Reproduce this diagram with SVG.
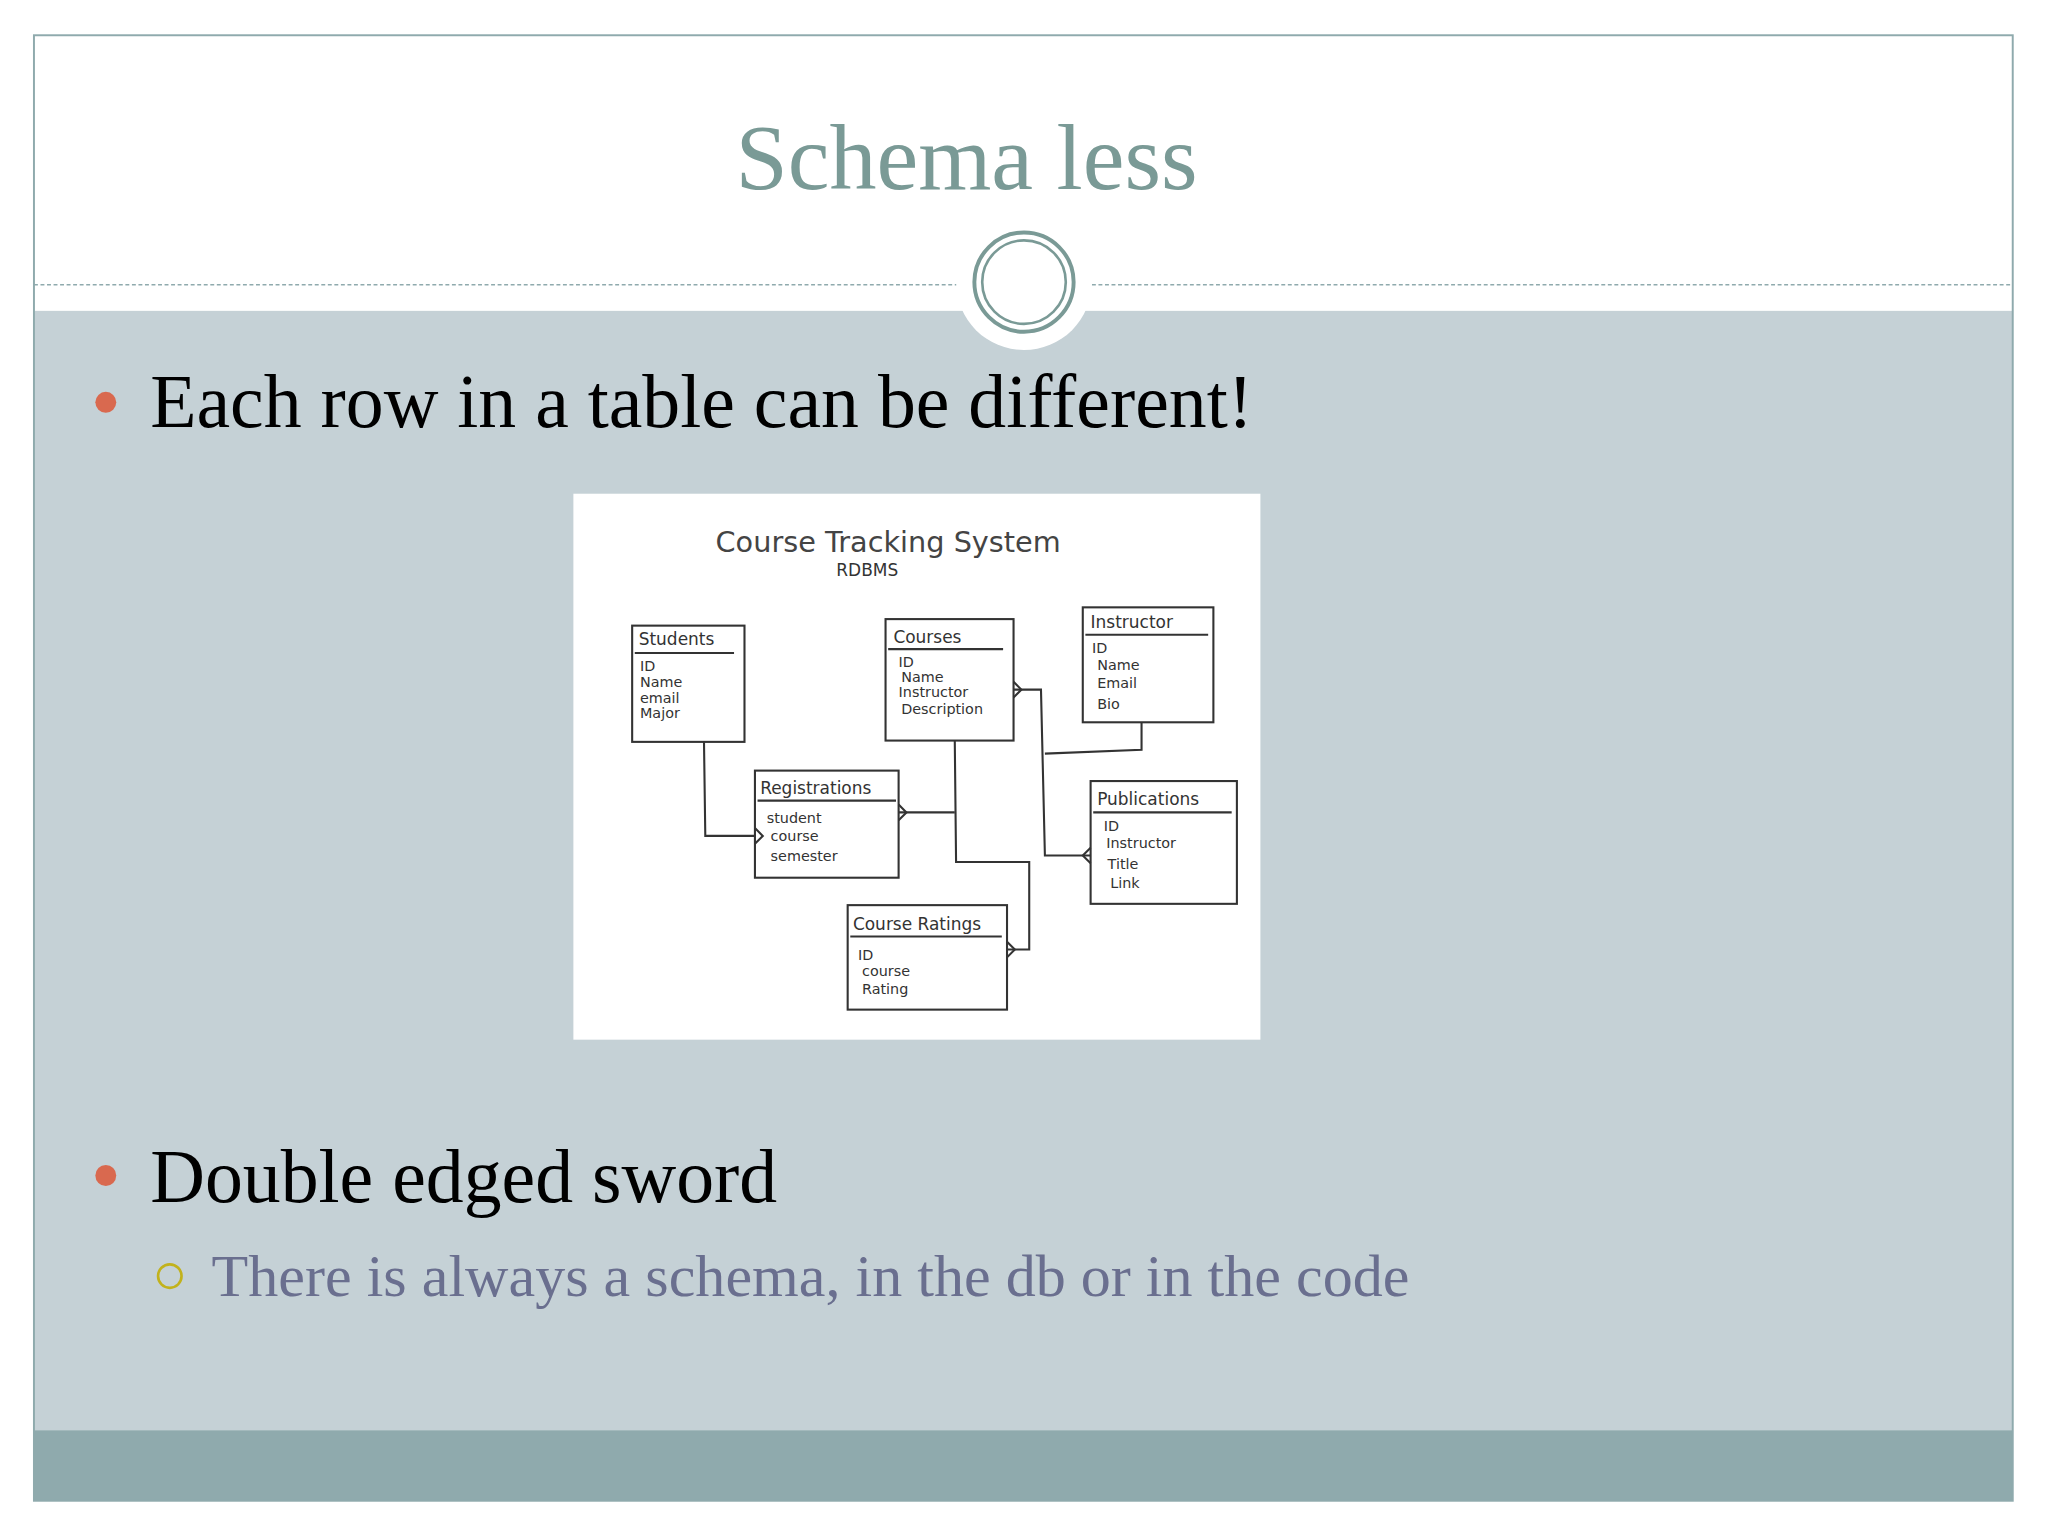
<svg xmlns="http://www.w3.org/2000/svg" width="2048" height="1536" viewBox="0 0 2048 1536">
<style>
.hw{font-family:"DejaVu Sans",sans-serif;fill:#333;font-size:11px}
.hh{font-family:"DejaVu Sans",sans-serif;fill:#333;font-size:13px}
.bx{fill:none;stroke:#333;stroke-width:1.6}
.cn{fill:none;stroke:#333;stroke-width:1.6}
</style>
<rect width="2048" height="1536" fill="#fff"/>
<g transform="scale(1.30612)">
<g id="slide">
<rect x="26" y="238" width="1515" height="857" fill="#c5d1d6"/>
<rect x="26" y="1095" width="1515" height="54" fill="#8faaad"/>
<rect x="26" y="27" width="1515" height="1122" fill="none" stroke="#8faaad" stroke-width="1.5"/>
<line x1="26" y1="218" x2="1541" y2="218" stroke="#8faaad" stroke-width="1.2" stroke-dasharray="3,2"/>
<circle cx="784" cy="216" r="52" fill="#fff"/>
<circle cx="784" cy="216" r="38" fill="#fff" stroke="#7a9a96" stroke-width="3"/>
<circle cx="784" cy="216" r="32" fill="none" stroke="#7a9a96" stroke-width="2"/>
<text x="740" y="145" text-anchor="middle" font-family="Liberation Serif,serif" font-size="72" fill="#7a9a96">Schema less</text>
<circle cx="81" cy="308" r="8" fill="#d9694f"/>
<text x="115" y="327" font-family="Liberation Serif,serif" font-size="58" fill="#000">Each row in a table can be different!</text>
<circle cx="81" cy="900" r="8" fill="#d9694f"/>
<text x="115" y="920" font-family="Liberation Serif,serif" font-size="58" fill="#000">Double edged sword</text>
<circle cx="130" cy="977" r="9" fill="none" stroke="#c2b21c" stroke-width="2"/>
<text x="162" y="992" font-family="Liberation Serif,serif" font-size="46" fill="#6a6f8f">There is always a schema, in the db or in the code</text>
</g>
<g id="sketch">
<rect x="439" y="378" width="526" height="418" fill="#fff"/>
<text x="680" y="423" text-anchor="middle" font-family="DejaVu Sans,sans-serif" font-size="22" fill="#444">Course Tracking System</text>
<text x="664" y="441" text-anchor="middle" class="hh">RDBMS</text>
</g>
<g id="students"><rect class="bx" x="484" y="479" width="86" height="89"/><line class="bx" x1="486" y1="500" x2="562" y2="500"/>
<text class="hh" x="489" y="494">Students</text><text class="hw" x="490" y="514">ID</text><text class="hw" x="490" y="526">Name</text><text class="hw" x="490" y="538">email</text><text class="hw" x="490" y="550">Major</text></g>
<g id="courses"><rect class="bx" x="678" y="474" width="98" height="93"/><line class="bx" x1="680" y1="497" x2="768" y2="497"/>
<text class="hh" x="684" y="492">Courses</text><text class="hw" x="688" y="511">ID</text><text class="hw" x="690" y="522">Name</text><text class="hw" x="688" y="534">Instructor</text><text class="hw" x="690" y="547">Description</text></g>
<g id="instructor"><rect class="bx" x="829" y="465" width="100" height="88"/><line class="bx" x1="831" y1="486" x2="925" y2="486"/>
<text class="hh" x="835" y="481">Instructor</text><text class="hw" x="836" y="500">ID</text><text class="hw" x="840" y="513">Name</text><text class="hw" x="840" y="527">Email</text><text class="hw" x="840" y="543">Bio</text></g>
<g id="registrations"><rect class="bx" x="578" y="590" width="110" height="82"/><line class="bx" x1="580" y1="613" x2="686" y2="613"/>
<text class="hh" x="582" y="608">Registrations</text><text class="hw" x="587" y="630">student</text><text class="hw" x="590" y="644">course</text><text class="hw" x="590" y="659">semester</text></g>
<g id="publications"><rect class="bx" x="835" y="598" width="112" height="94"/><line class="bx" x1="837" y1="622" x2="943" y2="622"/>
<text class="hh" x="840" y="616">Publications</text><text class="hw" x="845" y="636">ID</text><text class="hw" x="847" y="649">Instructor</text><text class="hw" x="848" y="665">Title</text><text class="hw" x="850" y="680">Link</text></g>
<g id="ratings"><rect class="bx" x="649" y="693" width="122" height="80"/><line class="bx" x1="651" y1="717" x2="767" y2="717"/>
<text class="hh" x="653" y="712">Course Ratings</text><text class="hw" x="657" y="735">ID</text><text class="hw" x="660" y="747">course</text><text class="hw" x="660" y="761">Rating</text></g>
<g id="connectors">
<polyline class="cn" points="539,568 540,640 578,640"/><polyline class="cn" points="578,634 584,640 578,646"/>
<polyline class="cn" points="731,567 732,660 788,660 788,727 771,727"/><polyline class="cn" points="771,721 777,727 771,733"/>
<polyline class="cn" points="731,622 688,622"/><polyline class="cn" points="688,616 694,622 688,628"/>
<polyline class="cn" points="776,528 797,528 800,655 835,655"/><polyline class="cn" points="776,522 782,528 776,534"/><polyline class="cn" points="835,649 829,655 835,661"/>
<polyline class="cn" points="874,553 874,574 800,577"/>
</g>
</g>
</svg>
